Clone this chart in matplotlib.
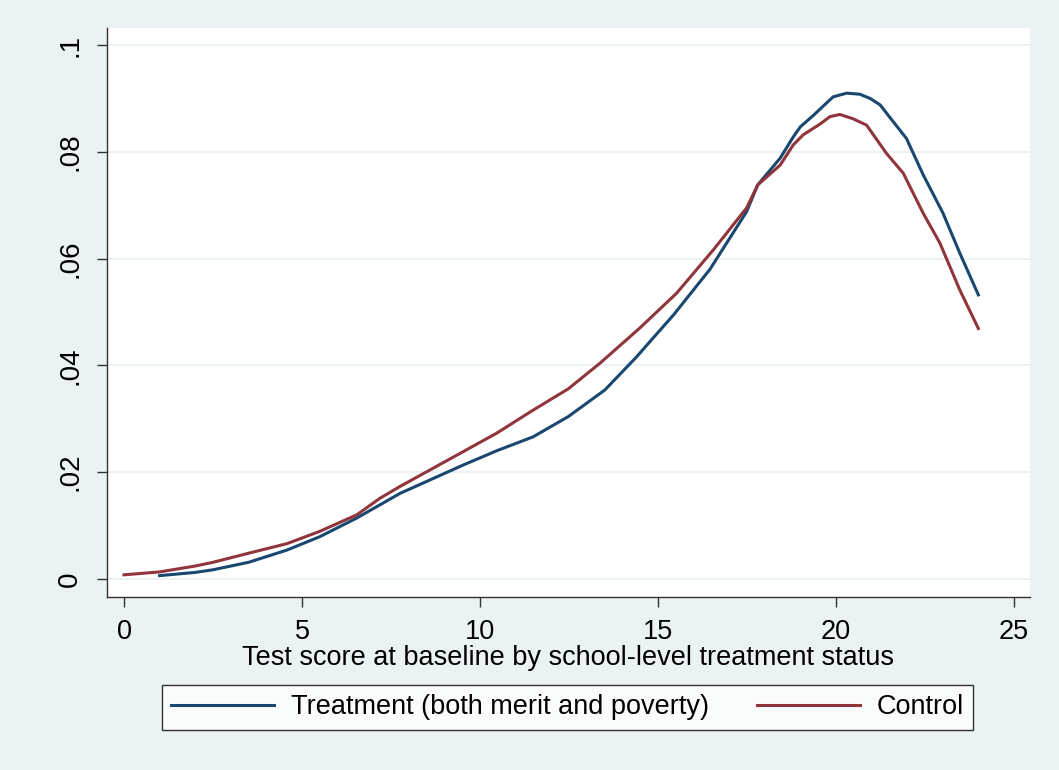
import numpy as np
import matplotlib
matplotlib.use('Agg')
import matplotlib.pyplot as plt

# Data (kernel density of baseline test score)
treat_x = [1.0, 2.0, 2.5, 3.5, 4.58, 5.5, 6.54, 7.75, 9.52, 10.47, 11.49, 12.48,
           13.51, 14.4, 14.78, 15.43, 16.46, 17.49, 17.8, 18.43, 18.8, 19.0,
           19.36, 19.55, 19.92, 20.3, 20.67, 20.96, 21.24, 21.52, 21.98,
           22.45, 23.0, 23.48, 24.0]
treat_y = [0.0006, 0.0012, 0.0017, 0.0031, 0.0054, 0.0079, 0.0114, 0.0160, 0.0213,
           0.0240, 0.0266, 0.0304, 0.0354, 0.0416, 0.0445, 0.0494, 0.0580,
           0.0688, 0.0738, 0.0788, 0.0828, 0.0847, 0.0868, 0.0880, 0.0903, 0.0910,
           0.0908, 0.0900, 0.0888, 0.0864, 0.0825, 0.0757, 0.0686, 0.0610, 0.0532]

ctrl_x = [0.0, 1.0, 2.0, 2.5, 3.5, 4.58, 5.5, 6.54, 7.19, 7.75, 9.52, 10.47, 11.49,
          12.48, 13.37, 14.49, 15.52, 16.55, 17.49, 17.8, 18.43, 18.8, 19.08,
          19.55, 19.83, 20.11, 20.48, 20.86, 21.42, 21.89, 22.45, 22.92, 23.2,
          23.48, 24.0]
ctrl_y = [0.00075, 0.0013, 0.0024, 0.0031, 0.0048, 0.0066, 0.0089, 0.0120, 0.0151,
          0.0173, 0.0238, 0.0273, 0.0316, 0.0356, 0.0404, 0.0470, 0.0535, 0.0616,
          0.0695, 0.0738, 0.0775, 0.0813, 0.0832, 0.0852, 0.0866, 0.0870, 0.0862,
          0.0850, 0.0797, 0.0760, 0.0685, 0.0629, 0.0585, 0.0541, 0.0469]

xticks = [0, 5, 10, 15, 20, 25]
yticks = [0, 0.02, 0.04, 0.06, 0.08, 0.1]
ytick_labels = ['0', '.02', '.04', '.06', '.08', '.1']
labels = ['Treatment (both merit and poverty)', 'Control']

# Stata s2color look
bg = '#EAF2F3'
blue = '#1A476F'
red = '#90353B'
plt.rcParams['font.family'] = ['Liberation Sans', 'DejaVu Sans']

fig = plt.figure(figsize=(10.59, 7.70), dpi=100, facecolor=bg)
ax = fig.add_axes([0.101, 0.2247, 0.8716, 0.7389])
ax.set_facecolor('white')

ax.plot(treat_x, treat_y, color=blue, lw=2.2, label=labels[0], zorder=3)
ax.plot(ctrl_x, ctrl_y, color=red, lw=2.2, label=labels[1], zorder=3)

ax.set_xlim(-0.48, 25.45)
ax.set_ylim(-0.0034, 0.1032)
ax.set_xticks(xticks)
ax.set_yticks(yticks)
ax.set_yticklabels(ytick_labels, rotation=90, va='center')
ax.grid(axis='y', color=bg, lw=1.5, zorder=0)
ax.set_axisbelow(True)

for s in ['top', 'right']:
    ax.spines[s].set_visible(False)
for s in ['left', 'bottom']:
    ax.spines[s].set_color('#333333')
    ax.spines[s].set_linewidth(1.0)
ax.tick_params(axis='both', direction='out', length=7, width=1.0, color='#333333',
               labelsize=19.5, pad=9)
ax.tick_params(axis='y', labelsize=20, pad=10)

ax.set_xlabel('Test score at baseline by school-level treatment status', fontsize=19.5,
              labelpad=0)

leg = fig.legend(loc='center', bbox_to_anchor=(0.536, 0.0812), ncol=2, fontsize=19.5,
                 handlelength=3.8, handletextpad=0.6, columnspacing=1.8,
                 borderpad=0.35, frameon=True, fancybox=False)
leg.get_frame().set_edgecolor('black')
leg.get_frame().set_linewidth(1.0)
leg.get_frame().set_facecolor('white')

fig.savefig('out.png', dpi=100, facecolor=bg)
